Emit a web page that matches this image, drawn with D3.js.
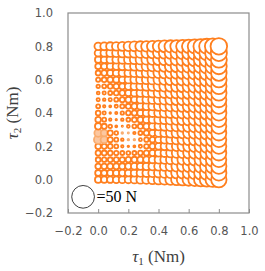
<!DOCTYPE html>
<html>
<head>
<meta charset="utf-8">
<script src="https://cdn.jsdelivr.net/npm/d3@7"></script>
<style>
  body { margin: 0; background: #fff; }
  svg { display: block; }
</style>
</head>
<body>
<div id="chart"></div>
<script>
// grid of joint torques (Nm)
var tau1 = [0.00, 0.04, 0.08, 0.12, 0.16, 0.20, 0.24, 0.28, 0.32, 0.36, 0.40,
            0.44, 0.48, 0.52, 0.56, 0.60, 0.64, 0.68, 0.72, 0.76, 0.80];
var tau2 = [0.00, 0.04, 0.08, 0.12, 0.16, 0.20, 0.24, 0.28, 0.32, 0.36, 0.40,
            0.44, 0.48, 0.52, 0.56, 0.60, 0.64, 0.68, 0.72, 0.76, 0.80];

// force (N) read off the bubbles, one row per tau2 value (row 0 = tau2 0.00)
// negative values are the pale bubbles
var force = [
  [14.1,14.1,14.5,15.0,15.4,15.8,16.7,17.6,18.5,19.4,20.7,22.0,22.9,24.2,25.5,26.8,28.2,29.5,30.8,32.1,33.9],
  [13.2,13.2,13.6,14.1,14.5,15.0,15.8,16.7,17.6,18.5,19.8,21.1,22.4,23.8,24.6,26.0,27.3,29.0,30.4,31.7,33.4],
  [12.3,12.3,12.8,13.2,13.6,14.1,15.0,15.8,16.7,17.6,18.9,20.2,21.6,22.9,24.2,25.5,26.8,28.2,29.9,31.2,33.4],
  [10.6,10.1,10.6,11.0,11.4,11.9,12.8,13.6,14.5,15.8,17.2,18.5,20.2,21.6,22.9,24.6,26.0,27.3,29.0,30.8,33.0],
  [11.4,11.0,10.6,9.7,8.8,8.4,8.8,10.1,11.9,13.6,15.8,17.6,19.4,21.1,22.4,24.2,25.5,27.3,28.6,30.4,33.0],
  [12.3,11.4,10.6,8.8,5.3,3.5,4.4,7.0,10.1,12.8,15.0,17.2,18.9,20.7,22.4,24.2,25.5,27.3,28.6,30.4,33.0],
  [-18.5,-15.8,11.4,8.8,5.7,-3.5,-3.5,6.6,9.7,12.3,15.0,17.2,18.9,20.7,22.4,24.2,25.5,27.3,28.6,30.4,33.0],
  [-16.7,-15.0,11.4,7.9,-3.5,-2.6,5.3,8.8,11.9,14.5,16.7,18.5,20.2,22.0,23.3,24.6,26.0,27.7,29.0,30.8,33.0],
  [14.1,11.4,7.9,4.4,2.6,6.2,8.8,11.4,13.6,15.8,17.6,19.4,21.1,22.4,23.8,25.1,26.4,27.7,29.0,30.8,33.0],
  [12.3,8.8,5.3,3.1,5.7,8.4,10.6,12.8,15.0,16.7,18.5,19.8,21.6,22.9,24.2,25.5,26.8,28.2,29.5,30.8,33.0],
  [10.6,7.0,3.5,4.8,7.5,10.1,11.9,14.1,15.8,17.6,18.9,20.7,22.0,23.3,24.6,25.5,26.8,28.2,29.5,31.2,33.4],
  [8.8,5.3,4.4,7.0,9.2,11.4,13.2,15.0,16.7,18.0,19.8,21.1,22.4,23.3,24.6,26.0,27.3,28.6,29.9,31.2,33.4],
  [7.0,5.7,7.0,8.8,11.0,12.8,14.5,16.3,17.6,18.9,20.2,21.6,22.9,23.8,25.1,26.4,27.3,28.6,29.9,31.7,33.4],
  [6.2,7.0,8.8,10.6,12.3,14.1,15.4,17.2,18.5,19.8,21.1,22.0,23.3,24.2,25.5,26.4,27.7,29.0,30.4,31.7,33.9],
  [7.5,8.8,10.6,12.3,13.6,15.4,16.7,18.0,19.4,20.2,21.6,22.9,23.8,24.6,26.0,26.8,28.2,29.0,30.4,32.1,33.9],
  [9.2,10.6,12.3,13.6,15.0,16.3,17.6,18.9,19.8,21.1,22.0,23.3,24.2,25.1,26.4,27.3,28.2,29.5,30.8,32.1,34.3],
  [11.0,12.3,13.6,15.0,16.3,17.2,18.5,19.4,20.7,21.6,22.4,23.8,24.6,25.5,26.4,27.7,28.6,29.9,31.2,32.6,34.3],
  [12.8,13.6,15.0,15.8,17.2,18.0,18.9,20.2,21.1,22.0,23.3,24.2,25.1,26.0,26.8,28.2,29.0,30.4,31.7,33.0,34.8],
  [14.1,15.0,16.3,17.2,18.0,18.9,19.8,21.1,22.0,22.9,23.8,24.6,25.5,26.4,27.3,28.6,29.5,30.8,32.1,33.4,35.2],
  [15.4,16.3,17.2,18.0,18.9,19.8,20.7,21.6,22.4,23.3,24.2,25.1,26.0,26.8,27.7,28.6,29.9,31.2,32.6,33.9,35.6],
  [16.3,17.2,18.0,18.9,19.8,20.7,21.6,22.4,23.3,24.2,25.1,26.0,26.8,27.7,28.6,29.5,30.8,32.1,33.4,34.8,36.5]
];

var ticks = [-0.2, 0.0, 0.2, 0.4, 0.6, 0.8, 1.0];
var legendForce = 50;

var width = 265, height = 271;
var margin = {top: 13, right: 16, bottom: 58, left: 68};

var svg = d3.select("#chart")
  .append("svg")
    .attr("width", width)
    .attr("height", height);

var x = d3.scaleLinear()
  .domain([-0.2, 1.0])
  .range([margin.left, width - margin.right]);
var y = d3.scaleLinear()
  .domain([-0.2, 1.0])
  .range([height - margin.bottom, margin.top]);
var r = d3.scaleLinear()
  .domain([0, 50])
  .range([0, 11.36]);

var fmt = function(d) { return d3.format(".1f")(d).replace("-", "\u2212"); };

// plot box
svg.append("rect")
  .attr("x", x(-0.2))
  .attr("y", y(1.0))
  .attr("width", x(1.0) - x(-0.2))
  .attr("height", y(-0.2) - y(1.0))
  .attr("fill", "none")
  .attr("stroke", "#8c8c8c")
  .attr("stroke-width", 1.2);

// x axis: inward ticks, labels well below
var xAxis = svg.append("g")
  .attr("transform", "translate(0," + y(-0.2) + ")")
  .call(d3.axisBottom(x).tickValues(ticks).tickSize(-4).tickPadding(14).tickFormat(fmt));
var yAxis = svg.append("g")
  .attr("transform", "translate(" + x(-0.2) + ",0)")
  .call(d3.axisLeft(y).tickValues(ticks).tickSize(0).tickPadding(15).tickFormat(fmt));

[xAxis, yAxis].forEach(function(g) {
  g.select(".domain").remove();
  g.selectAll(".tick line").attr("stroke", "#8c8c8c");
  g.selectAll(".tick text")
    .attr("fill", "#555")
    .style("font-family", "DejaVu Sans, sans-serif")
    .style("font-size", "11.5px");
});
yAxis.selectAll(".tick line").remove();

// bubbles, column by column so right/upper ones sit on top
var points = [];
tau1.forEach(function(t1, i) {
  tau2.forEach(function(t2, j) {
    points.push({t1: t1, t2: t2, f: force[j][i]});
  });
});

svg.append("g")
  .selectAll("circle")
  .data(points)
  .join("circle")
    .attr("cx", d => x(d.t1))
    .attr("cy", d => y(d.t2))
    .attr("r", d => r(Math.abs(d.f)))
    .attr("fill", d => d.f < 0 ? "#fcc7a0" : "#ffffff")
    .attr("stroke", d => d.f < 0 ? "#f9ad70" : "#ff7f1e")
    .attr("stroke-width", 1.8);

// size legend
svg.append("circle")
  .attr("cx", x(-0.1))
  .attr("cy", y(-0.1) + 0.5)
  .attr("r", r(legendForce))
  .attr("fill", "#fff")
  .attr("stroke", "#404040")
  .attr("stroke-width", 1);
svg.append("text")
  .attr("x", x(-0.1) + r(legendForce) + 2)
  .attr("y", y(-0.1) + 6)
  .attr("fill", "#000")
  .style("font-family", "Liberation Serif, serif")
  .style("font-size", "16px")
  .text("=" + legendForce + " N");

// axis titles
var titleFont = function(t) {
  t.attr("fill", "#404040")
   .style("font-family", "Liberation Serif, serif")
   .style("font-size", "17px")
   .attr("text-anchor", "middle");
};
var xt = svg.append("text")
  .attr("x", (x(-0.2) + x(1.0)) / 2)
  .attr("y", 262)
  .call(titleFont);
xt.append("tspan").style("font-style", "italic").text("\u03c4");
xt.append("tspan").attr("dy", 3).style("font-size", "11px").text("1");
xt.append("tspan").attr("dy", -3).text(" (Nm)");

var yt = svg.append("text")
  .attr("transform", "translate(18," + (y(-0.2) + y(1.0)) / 2 + ") rotate(-90)")
  .call(titleFont);
yt.append("tspan").style("font-style", "italic").text("\u03c4");
yt.append("tspan").attr("dy", 3).style("font-size", "11px").text("2");
yt.append("tspan").attr("dy", -3).text(" (Nm)");
</script>
</body>
</html>
